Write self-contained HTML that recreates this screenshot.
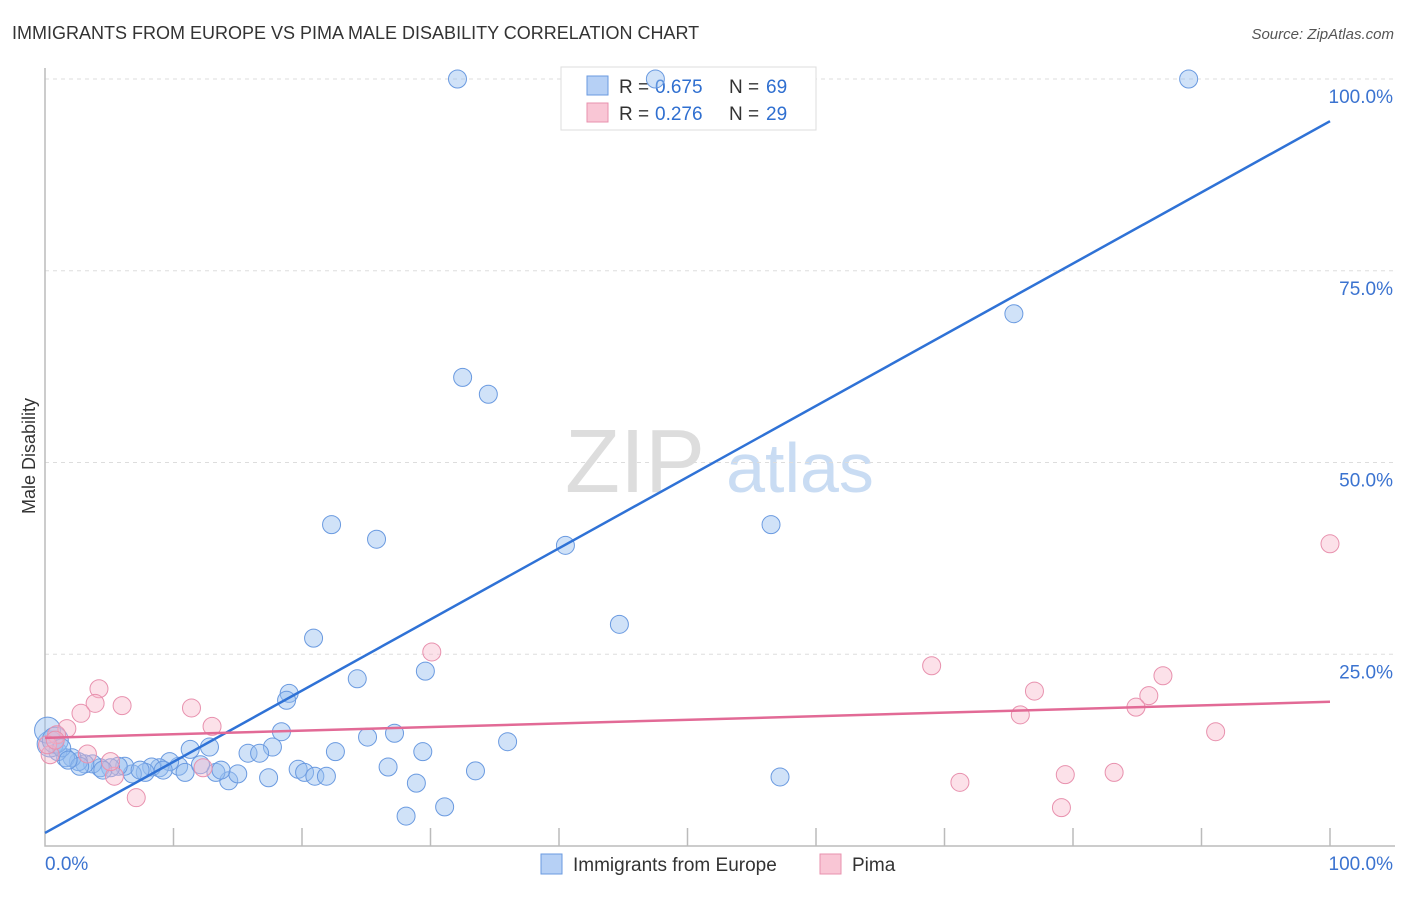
<!DOCTYPE html>
<html><head><meta charset="utf-8"><style>
body{margin:0;background:#fff;font-family:"Liberation Sans",sans-serif;}
svg text{font-family:"Liberation Sans",sans-serif;}
</style></head><body>
<svg id="c" width="1406" height="892">
<text x="12" y="39" font-size="18" fill="#333">IMMIGRANTS FROM EUROPE VS PIMA MALE DISABILITY CORRELATION CHART</text>
<text x="1394" y="39" font-size="15" fill="#555" font-style="italic" text-anchor="end">Source: ZipAtlas.com</text>
<text x="35" y="456" font-size="18" fill="#333" transform="rotate(-90 35 456)" text-anchor="middle">Male Disability</text>
<text x="635" y="492" font-size="90" fill="#ddd" font-family="Liberation Serif" text-anchor="middle">ZIP</text>
<text x="800" y="492" font-size="70" fill="#c9dcf3" text-anchor="middle">atlas</text>
<g id="grid"></g>
<g>
<rect x="561" y="67" width="255" height="63" fill="#fff" stroke="#ddd"/>
<rect x="587" y="76" width="21" height="19" fill="#b6d0f5" stroke="#6a9ae0"/>
<rect x="587" y="103" width="21" height="19" fill="#f9c6d5" stroke="#e891ae"/>
<text x="619" y="93" font-size="19" fill="#333">R =</text>
<text x="655" y="93" font-size="19" fill="#2f6fd0">0.675</text>
<text x="729" y="93" font-size="19" fill="#333">N =</text>
<text x="766" y="93" font-size="19" fill="#2f6fd0">69</text>
<text x="619" y="120" font-size="19" fill="#333">R =</text>
<text x="655" y="120" font-size="19" fill="#2f6fd0">0.276</text>
<text x="729" y="120" font-size="19" fill="#333">N =</text>
<text x="766" y="120" font-size="19" fill="#2f6fd0">29</text>
</g>
<g id="pts"></g><g id="lines"></g>
<g>
<rect x="541" y="854" width="21" height="20" fill="#b6d0f5" stroke="#6a9ae0"/>
<text x="573" y="871" font-size="19" fill="#333">Immigrants from Europe</text>
<rect x="820" y="854" width="21" height="20" fill="#f9c6d5" stroke="#e891ae"/>
<text x="852" y="871" font-size="19" fill="#333">Pima</text>
</g>
</svg>
<script>
const blueX=[32.1,47.5,89.0,75.4,32.5,34.5,22.3,25.8,56.5,40.5,44.7,20.9,19.0,18.8,24.3,29.6,18.4,27.2,25.1,36.0,15.8,17.7,11.3,12.8,16.7,22.6,29.4,26.7,19.7,20.2,21.0,21.9,17.4,28.9,33.5,57.2,14.3,15.0,13.3,13.7,10.4,9.7,10.9,8.9,8.3,7.8,6.8,6.2,5.7,5.1,4.3,3.7,3.1,2.6,2.1,1.6,1.0,0.4,0.2,0.8,1.3,28.1,31.1,12.1,9.2,7.4,4.5,2.7,1.8];
const blueY=[100,100,100,69.4,61.1,58.9,41.9,40.0,41.9,39.2,28.9,27.1,19.9,19.0,21.8,22.8,14.9,14.7,14.2,13.6,12.1,12.9,12.6,12.9,12.1,12.3,12.3,10.3,10.0,9.6,9.1,9.1,8.9,8.2,9.8,9.0,8.5,9.4,9.6,9.9,10.4,11.0,9.6,10.2,10.3,9.6,9.4,10.4,10.4,10.2,10.2,10.7,10.7,11.0,11.5,11.5,12.3,13.3,15.1,13.8,12.8,3.9,5.1,10.6,9.9,9.9,9.9,10.4,11.2];
const pinkX=[100,30.1,69.0,77.0,87.0,85.9,84.9,75.9,4.2,3.9,2.8,6.0,11.4,13.0,1.7,0.9,91.1,83.2,79.4,71.2,79.1,7.1,5.4,3.3,5.1,0.4,0.2,12.3,0.8];
const pinkY=[39.4,25.3,23.5,20.2,22.2,19.6,18.1,17.1,20.5,18.6,17.3,18.3,18.0,15.6,15.3,14.5,14.9,9.6,9.3,8.3,5.0,6.3,9.1,12.0,11.0,11.9,13.2,10.2,13.8];
const blueTrend=[1.7,94.5];
const pinkTrend=[14.1,18.8];
const yTicks=[100,75,50,25];
const yTickLabels=["100.0%","75.0%","50.0%","25.0%"];
const xTicks=[10,20,30,40,50,60,70,80,90,100];
const NS="http://www.w3.org/2000/svg";
const sx=v=>45+v*12.85, sy=v=>846-v*7.67;
function mk(t,a,p){const e=document.createElementNS(NS,t);for(const k in a)e.setAttribute(k,a[k]);p.appendChild(e);return e;}
const grid=document.getElementById('grid'),pts=document.getElementById('pts'),lines=document.getElementById('lines');
yTicks.forEach((v,i)=>{
 const l=mk('line',{x1:45,x2:1395,y1:sy(v),y2:sy(v),stroke:'#ddd','stroke-dasharray':'4 4'},grid);
 
 
 const t=mk('text',{x:1393,y:sy(v)+24,'font-size':19,fill:'#3b73d0','text-anchor':'end'},grid);
 t.textContent=yTickLabels[i];
 
 
});
const ax=mk('path',{d:'M45 68V846H1395',fill:'none',stroke:'#bbb','stroke-width':1.5},grid);


xTicks.forEach(v=>{
 const l=mk('line',{x1:sx(v),x2:sx(v),y1:828,y2:846,stroke:'#bbb','stroke-width':1.5},grid);
 
 
});
[["0.0%",45,"start"],["100.0%",1393,"end"]].forEach(a=>{
 const t=mk('text',{x:a[1],y:870,'font-size':19,fill:'#3b73d0','text-anchor':a[2]},grid);
 t.textContent=a[0];
 
 
});
blueX.forEach((x,i)=>{
 const c=mk('circle',{cx:sx(x),cy:sy(blueY[i]),r:(x<1?13:9),fill:'rgba(150,190,240,0.45)',stroke:'#6a9ae0','stroke-width':1},pts);
 
 
});
pinkX.forEach((x,i)=>{
 const c=mk('circle',{cx:sx(x),cy:sy(pinkY[i]),r:9,fill:'rgba(248,180,200,0.4)',stroke:'#e891ae','stroke-width':1},pts);
 
 
});
const bl=mk('line',{x1:sx(0),y1:sy(blueTrend[0]),x2:sx(100),y2:sy(blueTrend[1]),stroke:'#2f72d6','stroke-width':2.5},lines);


const pl=mk('line',{x1:sx(0),y1:sy(pinkTrend[0]),x2:sx(100),y2:sy(pinkTrend[1]),stroke:'#e26a96','stroke-width':2.5},lines);


</script>
</body></html>
